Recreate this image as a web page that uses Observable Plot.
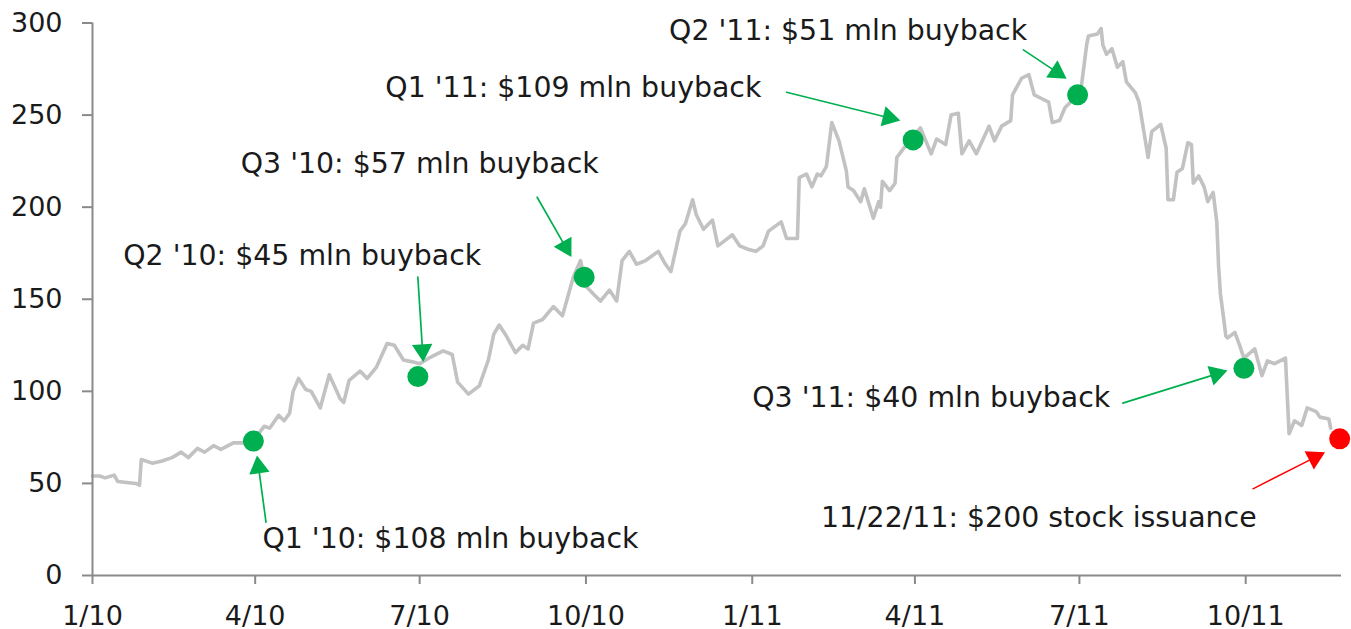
<!DOCTYPE html>
<html><head><meta charset="utf-8">
<script src="https://cdn.jsdelivr.net/npm/d3@7"></script>
<script src="https://cdn.jsdelivr.net/npm/@observablehq/plot@0.6"></script>
<style>html,body{margin:0;padding:0;background:#fff;} #chart svg{display:block}</style>
</head><body><div id="chart"></div>
<script>
// ---- Stock price series ----
const priceDates = [
"2010-01-01","2010-01-05","2010-01-08","2010-01-13","2010-01-15","2010-01-20","2010-01-25","2010-01-27","2010-01-28",
"2010-02-03","2010-02-08","2010-02-14","2010-02-19","2010-02-23","2010-02-28","2010-03-04","2010-03-09","2010-03-13",
"2010-03-20","2010-03-25","2010-03-30","2010-04-02","2010-04-06","2010-04-09","2010-04-14","2010-04-17","2010-04-20",
"2010-04-22","2010-04-25","2010-04-29","2010-05-02","2010-05-07","2010-05-12","2010-05-18","2010-05-20","2010-05-23",
"2010-05-29","2010-06-02","2010-06-07","2010-06-13","2010-06-17","2010-06-22","2010-06-27","2010-07-01","2010-07-06",
"2010-07-14","2010-07-19","2010-07-22","2010-07-28","2010-08-03","2010-08-08","2010-08-11","2010-08-14","2010-08-18",
"2010-08-23","2010-08-27","2010-08-30","2010-09-02","2010-09-07","2010-09-13","2010-09-18","2010-09-24","2010-09-28",
"2010-10-01","2010-10-05","2010-10-09","2010-10-14","2010-10-18","2010-10-21","2010-10-25","2010-10-29","2010-11-03",
"2010-11-10","2010-11-14","2010-11-17","2010-11-22","2010-11-25","2010-11-29","2010-12-01","2010-12-05","2010-12-10",
"2010-12-13","2010-12-17","2010-12-21","2010-12-25","2010-12-30",
"2011-01-03","2011-01-07","2011-01-10","2011-01-17","2011-01-20","2011-01-26","2011-01-27","2011-01-31","2011-02-03",
"2011-02-06","2011-02-08","2011-02-11","2011-02-14","2011-02-18","2011-02-22","2011-02-23","2011-02-26","2011-03-02",
"2011-03-04","2011-03-09","2011-03-12","2011-03-13","2011-03-14","2011-03-18","2011-03-21","2011-03-22","2011-03-25",
"2011-03-29","2011-04-04","2011-04-10","2011-04-13","2011-04-18","2011-04-21","2011-04-25","2011-04-27","2011-05-01",
"2011-05-05","2011-05-12","2011-05-15","2011-05-19","2011-05-24","2011-05-25","2011-05-30","2011-06-03","2011-06-06",
"2011-06-10","2011-06-14","2011-06-16","2011-06-20","2011-06-23","2011-06-28","2011-07-02","2011-07-05","2011-07-06",
"2011-07-11","2011-07-13","2011-07-14","2011-07-16","2011-07-19","2011-07-22","2011-07-25","2011-07-27","2011-08-01",
"2011-08-03","2011-08-08","2011-08-10","2011-08-15","2011-08-18","2011-08-19","2011-08-22","2011-08-24","2011-08-27",
"2011-08-30","2011-09-01","2011-09-02","2011-09-05","2011-09-08","2011-09-10","2011-09-13","2011-09-15","2011-09-16",
"2011-09-17","2011-09-19","2011-09-20","2011-09-21","2011-09-25","2011-09-28","2011-09-30","2011-10-06","2011-10-10",
"2011-10-13","2011-10-17","2011-10-23","2011-10-25","2011-10-28","2011-11-01","2011-11-04","2011-11-09","2011-11-11",
"2011-11-16","2011-11-17"
];
const priceValues = [
54,54,53,54.5,51,50.5,50,49,63,
61,62,64,67,64,69,67,70.5,68.5,
72,72,74,76,81,80,87,84,88,
100,107,101,100,91,109,96,94,106,
111,107,113,126,125,117,116,115,118,
122,120,105,98.5,103,117,131,136,130,
121,125,123,137,139,146,141,162,171,
157,153,149,155,149,171,176,169,171,
176,169,165,187,191,204,196,188,193,
179,182,185,179,177,
176,179,187,192,183,183,216,218,211,
218,217,222,246,236,220,211,209,203,
210,194,203,200,214,209,213,227,231,
236,243,229,237,234,250,251,229,236,
229,244,236,244,247,261,270,272,261,
259,257,246,247,254,259,265,288,293,
294,297,288,283,286,276,279,268,262,
257,227,241,245,232,204,204,219,221,
235,234,213,217,211,203,208,192,168,
153,138,130,129,132,124,118,123,108.5,
116.5,115,118,77,84,81.5,91,89,86,
85,80
];

// ---- Axes ----
const xTickDates = ["2010-01-01","2010-04-01","2010-07-01","2010-10-01","2011-01-01","2011-04-01","2011-07-01","2011-10-01"];
const xTickLabels = ["1/10","4/10","7/10","10/10","1/11","4/11","7/11","10/11"];
const yTicks = [0, 50, 100, 150, 200, 250, 300];
const xStart = "2010-01-01", xEnd = "2011-11-23";

// ---- Events (dots) ----
const eventDates  = ["2010-03-31","2010-06-30","2010-09-30","2011-03-31","2011-06-30","2011-09-30","2011-11-22"];
const eventValues = [73, 108, 162, 236.5, 261, 112.5, 74.2];
const eventKinds  = ["buyback","buyback","buyback","buyback","buyback","buyback","issuance"];
const eventTexts  = [
  "Q1 '10: $108 mln buyback",
  "Q2 '10: $45 mln buyback",
  "Q3 '10: $57 mln buyback",
  "Q1 '11: $109 mln buyback",
  "Q2 '11: $51 mln buyback",
  "Q3 '11: $40 mln buyback",
  "11/22/11: $200 stock issuance"
];

// ---- Annotation anchors (in data coordinates) ----
const labelDates  = ["2010-04-05","2010-01-18","2010-03-24","2010-06-12","2010-11-16","2011-01-01","2011-02-08"];
const labelValues = [19.6, 173.8, 223.6, 265, 295.8, 96.6, 31.4];
const arrowFromDates  = ["2010-04-07","2010-06-30","2010-09-04","2011-01-20","2011-05-31","2011-07-25","2011-10-05"];
const arrowFromValues = [28.9, 162, 205.4, 262.4, 285.4, 93.6, 47.1];
const arrowToDates    = ["2010-04-02","2010-07-03","2010-09-23","2011-03-24","2011-06-24","2011-09-21","2011-11-14"];
const arrowToValues   = [65.2, 115.8, 172.8, 247, 269.7, 111.3, 66.9];

// ---- Build ----
const W = 1351, H = 629, mL = 92, mR = 10, mT = 22.5, mB = 54;
const parse = s => new Date(s + "T00:00:00Z");
const price = priceDates.map((d, i) => ({date: parse(d), value: priceValues[i]}));
const events = eventDates.map((d, i) => ({
  date: parse(d), value: eventValues[i], kind: eventKinds[i], text: eventTexts[i],
  lx: parse(labelDates[i]), ly: labelValues[i],
  ax1: parse(arrowFromDates[i]), ay1: arrowFromValues[i],
  ax2: parse(arrowToDates[i]), ay2: arrowToValues[i]
}));
const GREEN = "#00b050", RED = "#ff0000", AXIS = "#8a8a8a", TEXT = "#1a1a1a";
const colorOf = k => k === "issuance" ? RED : GREEN;
const xDomain = [parse(xStart), parse(xEnd)];
const labelMap = new Map(xTickDates.map((d, i) => [+parse(d), xTickLabels[i]]));

// mirror scales only used to orient the arrowheads
const xs = d3.scaleUtc(xDomain, [mL, W - mR]);
const ys = d3.scaleLinear([0, 300], [H - mB, mT]);
const TIP = 12;

const arrowMarks = [];
for (const e of events) {
  const c = colorOf(e.kind);
  const dx = xs(e.ax2) - xs(e.ax1), dy = ys(e.ay2) - ys(e.ay1);
  const len = Math.hypot(dx, dy), ux = dx / len, uy = dy / len;
  arrowMarks.push(Plot.arrow([e], {x1: "ax1", y1: "ay1", x2: "ax2", y2: "ay2",
    stroke: c, strokeWidth: e.kind === "issuance" ? 1.4 : 1.7, headLength: 0, insetEnd: 12}));
  arrowMarks.push(Plot.dot([e], {x: "ax2", y: "ay2", symbol: "triangle", r: 7.6, fill: c, stroke: "none",
    rotate: Math.atan2(uy, ux) * 180 / Math.PI + 90, dx: -ux * TIP, dy: -uy * TIP}));
}

const chart = Plot.plot({
  width: W, height: H,
  marginLeft: mL, marginRight: mR, marginTop: mT, marginBottom: mB,
  style: {fontFamily: "DejaVu Sans", background: "#fff", overflow: "visible"},
  x: {type: "utc", domain: xDomain, label: null},
  y: {domain: [0, 300], label: null},
  marks: [
    Plot.line(price, {x: "date", y: "value", stroke: "#c2c2c2", strokeWidth: 3.6}),
    Plot.ruleY([0], {stroke: AXIS, strokeWidth: 2}),
    Plot.ruleX([xDomain[0]], {stroke: AXIS, strokeWidth: 2}),
    Plot.axisY({ticks: yTicks, tickSize: 10, tickPadding: 20, stroke: AXIS, strokeWidth: 2,
      fill: TEXT, fontSize: 27, tickFormat: d => String(d), label: null}),
    Plot.axisX({ticks: xTickDates.map(parse), tickSize: 9, tickPadding: 21, stroke: AXIS, strokeWidth: 2,
      fill: TEXT, fontSize: 27, tickFormat: d => labelMap.get(+d), label: null}),
    ...arrowMarks,
    Plot.dot(events.filter(e => e.kind === "buyback"), {x: "date", y: "value", r: 10.5, fill: GREEN}),
    Plot.dot(events.filter(e => e.kind === "issuance"), {x: "date", y: "value", r: 10.5, fill: RED}),
    Plot.text(events, {x: "lx", y: "ly", text: "text", textAnchor: "start", fontSize: 28.4, fill: TEXT})
  ]
});
document.getElementById("chart").appendChild(chart);
</script>
</body></html>
